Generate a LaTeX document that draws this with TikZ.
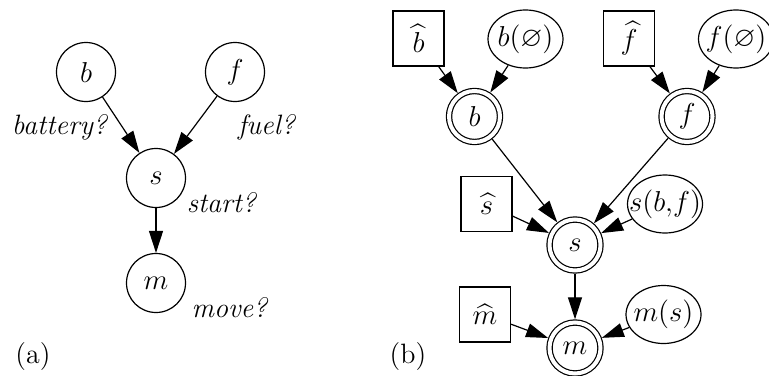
\documentclass[tikz,border=0pt]{standalone}
\usepackage{amsmath}
\usepackage{amssymb}
\usepackage{tikz}
\usetikzlibrary{arrows.meta,positioning,shapes.geometric}

\begin{document}
\begin{tikzpicture}[
              x=1pt, y=1pt,
              on grid,
              line width=0.6pt,
              every node/.style={font=\fontsize{14}{16}\selectfont},
              var/.style={circle, draw, minimum size=29.5pt, inner sep=0pt},
              dvar/.style={circle, draw, double, double distance=2pt,
                           minimum size=25.5pt, inner sep=0pt, outer sep=1.6pt},
              intv/.style={rectangle, draw, minimum width=25.5pt,
                           minimum height=27.5pt, inner sep=0pt},
              mech/.style={ellipse, draw, minimum width=37.5pt,
                           minimum height=29pt, inner xsep=-8pt, inner ysep=-4pt},
              lbl/.style={inner sep=0pt},
              arr/.style={draw, -{Triangle[length=11pt,width=7pt]}}
            ]

            \useasboundingbox (0,0) rectangle (384.5,-187.5);

            % (a) plain network
            \node[var] (b) at (43,-36) {$b$};
            \node[var] (f) [right=74.5pt of b] {$f$};
            \node[var] (s) [below right=53pt and 35pt of b] {$s$};
            \node[var] (m) [below=52.5pt of s] {$m$};

            \node[lbl] (blab) [below left=27.5pt and 13pt of b] {\textit{battery?}};
            \node[lbl] (flab) [below right=27.5pt and 16pt of f] {\textit{fuel?}};
            \node[lbl] (slab) [below right=12.5pt and 33pt of s] {\textit{start?}};
            \node[lbl] (mlab) [below right=12.5pt and 37pt of m] {\textit{move?}};

            \draw[arr] (b) -- (s);
            \draw[arr] (f) -- (s);
            \draw[arr] (s) -- (m);

            \node[lbl] (capa) at (16.5,-178.5) {(a)};

            % (b) with interventions and mechanisms
            \node[dvar] (B) at (237.25,-58.25) {$b$};
            \node[intv] (Bh) [above left=39pt and 28pt of B] {$\widehat{b}$};
            \node[mech] (Bm) [above right=38.75pt and 25.5pt of B] {$b(\varnothing)$};

            \node[dvar] (F) [right=106.25pt of B] {$f$};
            \node[intv] (Fh) [above left=39pt and 29pt of F] {$\widehat{f}$};
            \node[mech] (Fm) [above right=38.75pt and 24.5pt of F] {$f(\varnothing)$};

            \node[dvar] (S) at (287.5,-122.5) {$s$};
            \node[intv] (Sh) [above left=20.5pt and 44.25pt of S] {$\widehat{s}$};
            \node[mech] (Sm) [above right=20.5pt and 45pt of S] {$s(b{,}f)$};

            \node[dvar] (M) [below=51.5pt of S] {$m$};
            \node[intv] (Mh) [above left=16.75pt and 45pt of M] {$\widehat{m}$};
            \node[mech] (Mm) [above right=16.75pt and 44.25pt of M] {$m(s)$};

            \draw[arr] (Bh) -- (B);
            \draw[arr] (Bm) -- (B);
            \draw[arr] (Fh) -- (F);
            \draw[arr] (Fm) -- (F);
            \draw[arr] (B) -- (S);
            \draw[arr] (F) -- (S);
            \draw[arr] (Sh) -- (S);
            \draw[arr] (Sm) -- (S);
            \draw[arr] (S) -- (M);
            \draw[arr] (Mh) -- (M);
            \draw[arr] (Mm) -- (M);

            \node[lbl] (capb) at (204,-178.5) {(b)};

            \end{tikzpicture}
\end{document}
